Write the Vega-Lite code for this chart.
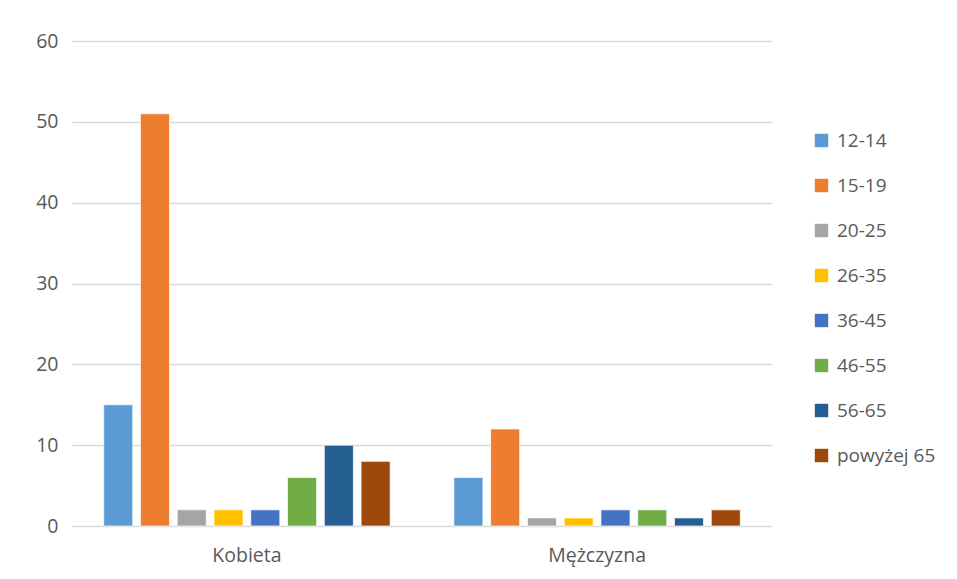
{
  "$schema": "https://vega.github.io/schema/vega-lite/v6.json",
  "autosize": {"type": "none"},
  "padding": {"left": 72, "top": 41, "right": 185, "bottom": 53},
  "width": 700,
  "height": 485,
  "background": "white",
  "config": {
    "font": "Open Sans",
    "view": {"stroke": null},
    "axis": {"labelColor": "#595959", "labelFontSize": 19.5, "domain": false, "ticks": false}
  },
  "data": {
    "values": [
      {"plec": "Kobieta", "wiek": "12-14", "n": 15},
      {"plec": "Kobieta", "wiek": "15-19", "n": 51},
      {"plec": "Kobieta", "wiek": "20-25", "n": 2},
      {"plec": "Kobieta", "wiek": "26-35", "n": 2},
      {"plec": "Kobieta", "wiek": "36-45", "n": 2},
      {"plec": "Kobieta", "wiek": "46-55", "n": 6},
      {"plec": "Kobieta", "wiek": "56-65", "n": 10},
      {"plec": "Kobieta", "wiek": "powyżej 65", "n": 8},
      {"plec": "Mężczyzna", "wiek": "12-14", "n": 6},
      {"plec": "Mężczyzna", "wiek": "15-19", "n": 12},
      {"plec": "Mężczyzna", "wiek": "20-25", "n": 1},
      {"plec": "Mężczyzna", "wiek": "26-35", "n": 1},
      {"plec": "Mężczyzna", "wiek": "36-45", "n": 2},
      {"plec": "Mężczyzna", "wiek": "46-55", "n": 2},
      {"plec": "Mężczyzna", "wiek": "56-65", "n": 1},
      {"plec": "Mężczyzna", "wiek": "powyżej 65", "n": 2}
    ]
  },
  "mark": {"type": "bar", "stroke": "white", "strokeWidth": 0.7},
  "encoding": {
    "x": {
      "field": "plec", "type": "nominal", "title": null,
      "scale": {"paddingInner": 0.161, "paddingOuter": 0.08},
      "axis": {"labelAngle": 0, "labelPadding": 20, "grid": false}
    },
    "xOffset": {
      "field": "wiek", "type": "nominal",
      "scale": {"paddingInner": 0.21, "paddingOuter": 0.1}
    },
    "y": {
      "field": "n", "type": "quantitative", "title": null,
      "scale": {"domain": [0, 60]},
      "axis": {"values": [0, 10, 20, 30, 40, 50, 60], "gridColor": "#d9d9d9", "gridWidth": 1.3, "labelPadding": 14}
    },
    "color": {
      "field": "wiek", "type": "nominal",
      "scale": {
        "domain": ["12-14", "15-19", "20-25", "26-35", "36-45", "46-55", "56-65", "powyżej 65"],
        "range": ["#5B9BD5", "#ED7D31", "#A5A5A5", "#FFC000", "#4472C4", "#70AD47", "#255E91", "#9E480E"]
      },
      "legend": {
        "title": null, "orient": "none", "legendX": 740, "legendY": 90,
        "symbolType": "square", "symbolSize": 180, "symbolStrokeWidth": 0,
        "labelFontSize": 19, "labelColor": "#595959", "rowPadding": 25, "labelOffset": 6
      }
    }
  }
}
